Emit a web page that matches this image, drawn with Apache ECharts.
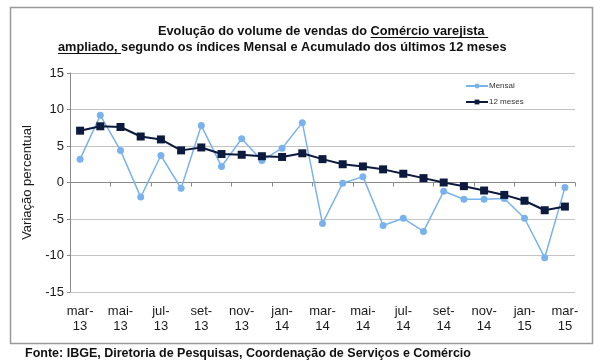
<!DOCTYPE html>
<html><head><meta charset="utf-8">
<script src="https://cdn.jsdelivr.net/npm/echarts@6/dist/echarts.min.js"></script>
<style>html,body{margin:0;padding:0;background:#fff}#c{width:600px;height:363px}</style>
</head><body><div id="c"></div>
<script>
const categories = ['mar-13','abr-13','mai-13','jun-13','jul-13','ago-13','set-13','out-13','nov-13','dez-13','jan-14','fev-14','mar-14','abr-14','mai-14','jun-14','jul-14','ago-14','set-14','out-14','nov-14','dez-14','jan-15','fev-15','mar-15'];
const mensal = [3.2,9.2,4.4,-2.0,3.7,-0.8,7.8,2.2,6.0,3.0,4.7,8.2,-5.6,-0.1,0.8,-5.9,-4.9,-6.7,-1.2,-2.3,-2.3,-2.2,-4.9,-10.3,-0.7];
const meses12 = [7.1,7.7,7.6,6.3,5.9,4.4,4.8,3.9,3.8,3.6,3.5,4.0,3.2,2.5,2.2,1.8,1.2,0.6,0.0,-0.5,-1.1,-1.7,-2.5,-3.8,-3.3];
const seriesNames = ['Mensal','12 meses'];
const titleLine1 = ['Evolução do volume de vendas do ', 'Comércio varejista '];
const titleLine2 = ['ampliado, ', 'segundo os índices Mensal e Acumulado dos últimos 12 meses'];
const yAxisName = 'Variação percentual';
const sourceText = 'Fonte: IBGE, Diretoria de Pesquisas, Coordenação de Serviços e Comércio';

const FF = '"Liberation Sans", Arial, sans-serif';
const titleFont = 'bold 12.75px ' + FF;
const sourceFont = 'bold 12.5px ' + FF;
const ctx = document.createElement('canvas').getContext('2d');
function tw(s, f) { ctx.font = f; return ctx.measureText(s).width; }

function titleParts(parts, x, y, underlineIdx) {
  const els = [];
  let cx = x;
  parts.forEach((p, i) => {
    const w = tw(p, titleFont);
    els.push({type:'text', x:cx, y:y, style:{text:p, x:0, y:0, font:titleFont, fill:'#111', align:'left', verticalAlign:'middle'}});
    if (i === underlineIdx) {
      els.push({type:'line', shape:{x1:cx, y1:y+6.5, x2:cx+w, y2:y+6.5}, style:{stroke:'#111', lineWidth:1}});
    }
    cx += w;
  });
  return els;
}

const chart = echarts.init(document.getElementById('c'), null, {renderer:'canvas'});
const option = {
  backgroundColor: '#fff',
  animation: false,
  grid: {left:70, right:25, top:73, bottom:71, containLabel:false},
  legend: {
    orient:'vertical', left:460, top:77, itemWidth:22, itemHeight:6, itemGap:8,
    textStyle:{fontSize:8, color:'#333', fontFamily:FF, padding:[0,0,0,-4]},
    data: seriesNames
  },
  xAxis: [{
    type:'category', data:categories, boundaryGap:true,
    axisLine:{onZero:true, lineStyle:{color:'#8a8a8a', width:1}},
    axisTick:{show:true, interval:1, length:4, lineStyle:{color:'#8a8a8a'}},
    axisLabel:{show:false}
  },{
    type:'category', data:categories, boundaryGap:true, position:'bottom',
    axisLine:{show:false}, axisTick:{show:false},
    axisLabel:{interval:1, margin:12, fontSize:13, lineHeight:15, color:'#1a1a1a', fontFamily:FF,
      formatter: v => v.replace('-', '-\n')}
  }],
  yAxis: {
    type:'value', min:-15, max:15, interval:5,
    name: yAxisName, nameLocation:'middle', nameGap:36, nameRotate:90,
    nameTextStyle:{fontSize:13, color:'#1a1a1a', fontFamily:FF},
    axisLine:{show:true, lineStyle:{color:'#8a8a8a'}},
    axisTick:{show:true, length:3, lineStyle:{color:'#8a8a8a'}},
    axisLabel:{fontSize:13, color:'#1a1a1a', fontFamily:FF, margin:6},
    splitLine:{lineStyle:{color:'#c4c4c4', width:1}}
  },
  series: [{
    name: seriesNames[0], type:'line', data:mensal, xAxisIndex:0,
    symbol:'circle', symbolSize:7,
    lineStyle:{color:'#7ab3ec', width:1.5}, itemStyle:{color:'#7ab3ec'}
  },{
    name: seriesNames[1], type:'line', data:meses12, xAxisIndex:0,
    symbol:'rect', symbolSize:8,
    lineStyle:{color:'#0b1a3d', width:2}, itemStyle:{color:'#0b1a3d'}
  }],
  graphic: [
    {type:'rect', shape:{x:10.5, y:7.5, width:582, height:336}, style:{fill:'none', stroke:'#999', lineWidth:1.5}, z:-1}
  ].concat(titleParts(titleLine1, 158, 31, 1))
   .concat(titleParts(titleLine2, 58, 47, 0))
   .concat([{type:'text', x:25, y:354, style:{text:sourceText, x:0, y:0, font:sourceFont, fill:'#111', align:'left', verticalAlign:'middle'}}])
};
chart.setOption(option);
</script>
</body></html>
